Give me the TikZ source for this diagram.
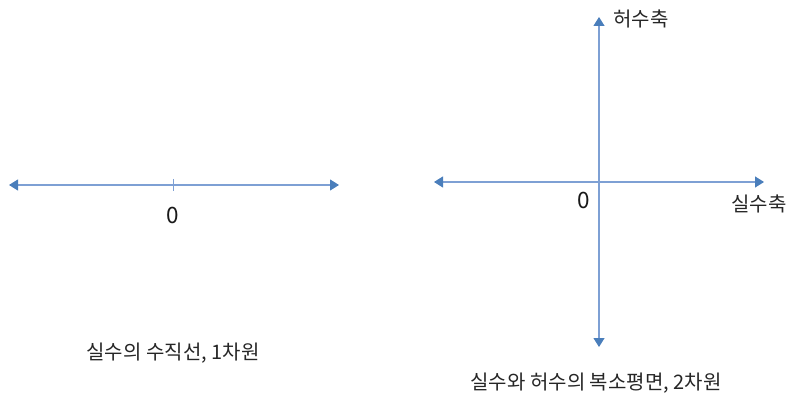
\documentclass[tikz,border=0pt]{standalone}
\usepackage{fontspec}
\setmainfont{Noto Sans CJK KR}
\usetikzlibrary{arrows.meta}
\definecolor{axisline}{RGB}{126,160,212}
\definecolor{axistip}{RGB}{74,126,187}
\tikzset{
  axis/.style={draw=axisline, line width=1.2pt, {Triangle[length=9pt,width=11pt,fill=axistip,color=axistip]}-{Triangle[length=9pt,width=11pt,fill=axistip,color=axistip]}},
  lbl/.style={inner sep=0pt, font=\fontsize{20}{22}\selectfont, text=black!85},
  zero/.style={inner sep=0pt, font=\fontsize{22.5}{24}\selectfont, text=black!90},
}
\begin{document}
\begin{tikzpicture}[x=1pt,y=-1pt]
\useasboundingbox (0,0) rectangle (800,406);
% left number line
\coordinate (l1) at (9,185);
\coordinate (l2) at (339,185);
\draw[axis] (l1) -- (l2);
\coordinate (t1) at (173,179);
\coordinate (t2) at (173,191);
\draw[draw=axisline, line width=1pt] (t1) -- (t2);
\node[zero] (z1) at (173,215) {0};
\node[lbl] (c1) at (173,353) {실수의 수직선, 1차원};
% complex plane
\coordinate (h1) at (434,182);
\coordinate (h2) at (764,182);
\draw[axis] (h1) -- (h2);
\coordinate (v1) at (599,347);
\coordinate (v2) at (599,17);
\draw[axis] (v1) -- (v2);
\node[lbl, anchor=west] (im) at (613,19) {허수축};
\node[lbl, anchor=west] (re) at (731,204) {실수축};
\node[zero] (z2) at (584,200) {0};
\node[lbl] (c2) at (596,383) {실수와 허수의 복소평면, 2차원};
\end{tikzpicture}
\end{document}
